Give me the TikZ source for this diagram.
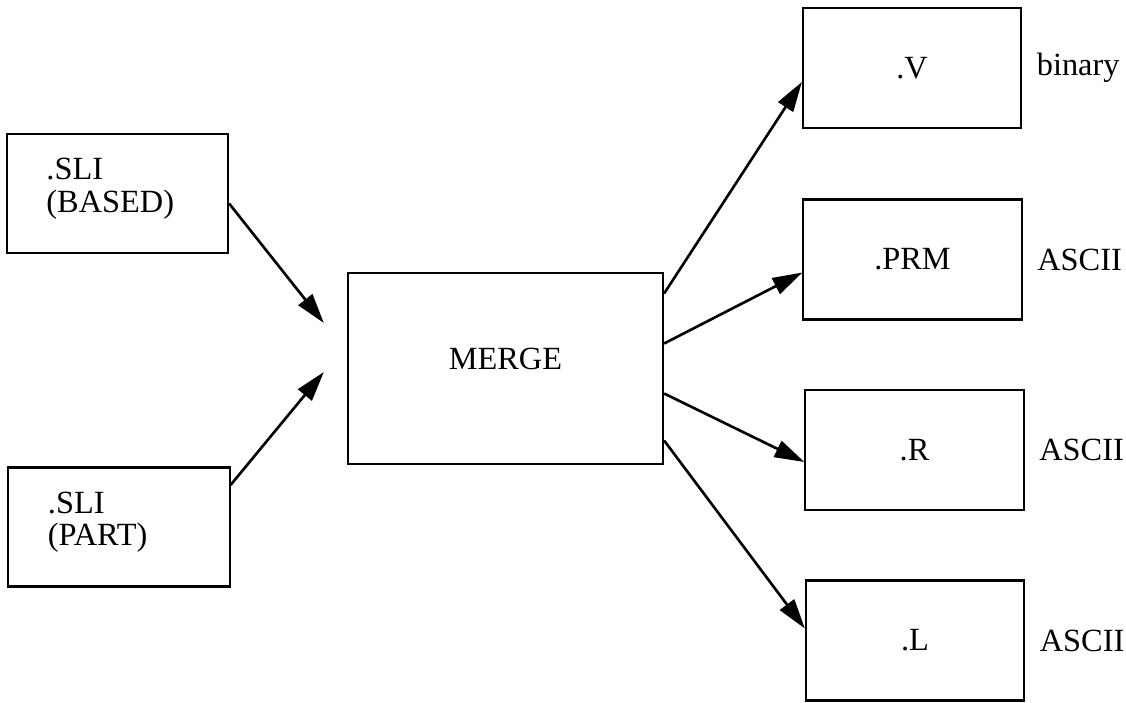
\documentclass[tikz,border=0pt]{standalone}
\usepackage{fontspec}
\setmainfont{Liberation Serif}
\usetikzlibrary{arrows.meta,positioning}
\tikzset{
      srcbox/.style={
        draw=black,
        line width=0.6pt,
        minimum width=2.21cm,
        minimum height=1.19cm,
        text width=1.42cm,
        text depth=0.49cm,
        align=left,
        inner sep=0pt
      },
      outbox/.style={
        draw=black,
        line width=0.6pt,
        minimum width=2.18cm,
        minimum height=1.2cm,
        inner sep=0pt
      },
      mergebox/.style={
        draw=black,
        line width=0.6pt,
        minimum width=3.15cm,
        minimum height=1.91cm,
        text depth=0.2cm,
        inner sep=0pt
      },
      kindlabel/.style={inner sep=0pt},
      feed/.style={-{Triangle[length=8.5pt,width=5pt]}, line width=0.75pt}
    }
\begin{document}
\begin{tikzpicture}[x=0.01cm,y=0.01cm,font=\fontsize{9.2}{9.2}\selectfont]
    \useasboundingbox (0,0) rectangle (1126,702);
    \node[srcbox] (based) at (117.5,508.5) {.SLI\\(BASED)};
    \node[srcbox] (part) at (119,175) {.SLI\\(PART)};
    \node[mergebox] (merge) at (505.5,333.5) {MERGE};
    \node[outbox] (v) at (912,634) {.V};
    \node[outbox] (prm) at (912.5,442.5) {.PRM};
    \node[outbox] (r) at (914.5,252) {.R};
    \node[outbox] (l) at (915,61.5) {.L};
    \node[kindlabel, right=0.14cm of v] (vkind) {binary};
    \node[kindlabel, right=0.14cm of prm] (prmkind) {ASCII};
    \node[kindlabel, right=0.14cm of r] (rkind) {ASCII};
    \node[kindlabel, right=0.14cm of l] (lkind) {ASCII};
    \coordinate (inA) at ([xshift=-0.23cm,yshift=0.455cm]merge.west);
    \coordinate (inB) at ([xshift=-0.23cm,yshift=-0.035cm]merge.west);
    \draw[feed] ([yshift=-0.1cm]based.east) -- (inA);
    \draw[feed] ([yshift=0.42cm]part.east) -- (inB);
    \draw[feed] ([yshift=0.75cm]merge.east) -- ([yshift=-0.14cm]v.west);
    \draw[feed] ([yshift=0.25cm]merge.east) -- ([yshift=-0.13cm]prm.west);
    \draw[feed] ([yshift=-0.25cm]merge.east) -- ([yshift=-0.12cm]r.west);
    \draw[feed] ([yshift=-0.72cm]merge.east) -- ([yshift=0.12cm]l.west);
\end{tikzpicture}
\end{document}
